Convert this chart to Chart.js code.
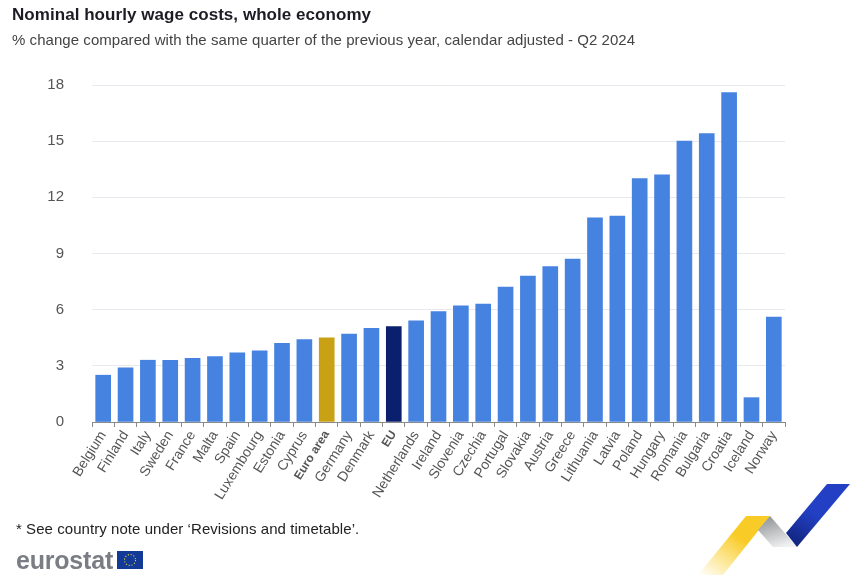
<!DOCTYPE html>
<html>
<head>
<meta charset="utf-8">
<script src="https://cdn.jsdelivr.net/npm/chart.js@4"></script>
<style>
    html, body { margin: 0; padding: 0; background: #fff; width: 863px; height: 575px; overflow: hidden; font-family: "Liberation Sans", Arial, sans-serif; }
    #wrap { position: relative; width: 863px; height: 575px; }
    canvas { position: absolute; left: 0; top: 0; }
    .txt { position: absolute; white-space: nowrap; }
    #title { left: 12px; top: 5px; font-size: 17px; font-weight: bold; color: #1c1c24; letter-spacing: 0.05px; }
    #subtitle { left: 12px; top: 31px; font-size: 15px; color: #444; letter-spacing: 0.05px; }
    #note { left: 16px; top: 520px; font-size: 15px; color: #222; letter-spacing: 0.06px; }
    #brand { left: 16px; top: 546px; font-size: 25px; font-weight: bold; color: #7b7d85; letter-spacing: -0.2px; }
    svg { position: absolute; }
</style>
</head>
<body>
<div id="wrap">
    <canvas id="wageChart" width="863" height="575"></canvas>
    <div class="txt" id="title">Nominal hourly wage costs, whole economy</div>
    <div class="txt" id="subtitle">% change compared with the same quarter of the previous year, calendar adjusted - Q2 2024</div>
    <div class="txt" id="note">* See country note under ‘Revisions and timetable’.</div>
    <div class="txt" id="brand">eurostat</div>

    <!-- EU flag -->
    <svg style="left:117px;top:551px" width="26" height="18" viewBox="0 0 26 18">
        <rect width="26" height="18" fill="#123a96"/>
        <circle cx="13" cy="9" r="5.5" fill="none" stroke="#e8d44a" stroke-width="1.1" stroke-dasharray="1.1 1.78"/>
    </svg>

    <!-- ribbon logo -->
    <svg style="left:680px;top:460px" width="183" height="115" viewBox="0 0 183 115">
        <defs>
            <linearGradient id="yel" x1="0" y1="1" x2="0.55" y2="0.35">
                <stop offset="0" stop-color="#fbd334" stop-opacity="0"/>
                <stop offset="1" stop-color="#f9cb27"/>
            </linearGradient>
            <linearGradient id="gry" x1="0.2" y1="0" x2="0.6" y2="1">
                <stop offset="0" stop-color="#8f9193"/>
                <stop offset="1" stop-color="#eff0f2"/>
            </linearGradient>
            <linearGradient id="blu" x1="0.75" y1="0" x2="0.25" y2="1">
                <stop offset="0.5" stop-color="#2340c4"/>
                <stop offset="1" stop-color="#122580"/>
            </linearGradient>
        </defs>
        <polygon points="18,115 66,56 90,56 43,115" fill="url(#yel)"/>
        <polygon points="90,56 117,87 93,87 78,70" fill="url(#gry)"/>
        <polygon points="147,24 170,24 117,87 106,73" fill="url(#blu)"/>
    </svg>
</div>

<script>
const categories = ['Belgium', 'Finland', 'Italy', 'Sweden', 'France', 'Malta', 'Spain', 'Luxembourg', 'Estonia', 'Cyprus',
    'Euro area', 'Germany', 'Denmark', 'EU', 'Netherlands', 'Ireland', 'Slovenia', 'Czechia', 'Portugal', 'Slovakia',
    'Austria', 'Greece', 'Lithuania', 'Latvia', 'Poland', 'Hungary', 'Romania', 'Bulgaria', 'Croatia', 'Iceland', 'Norway'];
const wageChange = [2.5, 2.9, 3.3, 3.3, 3.4, 3.5, 3.7, 3.8, 4.2, 4.4,
    4.5, 4.7, 5.0, 5.1, 5.4, 5.9, 6.2, 6.3, 7.2, 7.8,
    8.3, 8.7, 10.9, 11.0, 13.0, 13.2, 15.0, 15.4, 17.6, 1.3, 5.6];
const yTicks = [0, 3, 6, 9, 12, 15, 18];
const boldLabels = ['Euro area', 'EU'];

// aggregates get their own colour
function barColor(name) {
    if (name === 'Euro area') return '#c9a114';
    if (name === 'EU') return '#0b1f6f';
    return '#4682e0';
}

new Chart(document.getElementById('wageChart').getContext('2d'), {
    type: 'bar',
    data: {
        labels: categories,
        datasets: [{
            data: wageChange,
            backgroundColor: categories.map(barColor),
            barThickness: 15
        }]
    },
    options: {
        responsive: false,
        animation: false,
        layout: { padding: { top: 85, right: 78, bottom: 0, left: 0 } },
        plugins: {
            legend: { display: false },
            tooltip: { enabled: false }
        },
        scales: {
            x: {
                afterFit: (axis) => { axis.height = 153; },
                border: { color: '#8a8a8a' },
                grid: { drawOnChartArea: false, tickColor: '#8a8a8a', tickLength: 5 },
                ticks: {
                    autoSkip: false,
                    minRotation: 58,
                    maxRotation: 58,
                    padding: 1,
                    labelOffset: 0,
                    color: '#555',
                    font: (ctx) => ({
                        family: '"Liberation Sans"',
                        size: boldLabels.includes(categories[ctx.index]) ? 12 : 14,
                        weight: boldLabels.includes(categories[ctx.index]) ? 'bold' : 'normal'
                    })
                }
            },
            y: {
                min: 0,
                max: 18,
                afterFit: (axis) => { axis.width = 92; },
                afterBuildTicks: (axis) => { axis.ticks = yTicks.map(v => ({ value: v })); },
                border: { display: false },
                grid: { color: '#e8e8ee', drawTicks: false },
                ticks: {
                    padding: 28,
                    color: '#555',
                    font: { family: '"Liberation Sans"', size: 15 }
                }
            }
        }
    }
});
</script>
</body>
</html>
